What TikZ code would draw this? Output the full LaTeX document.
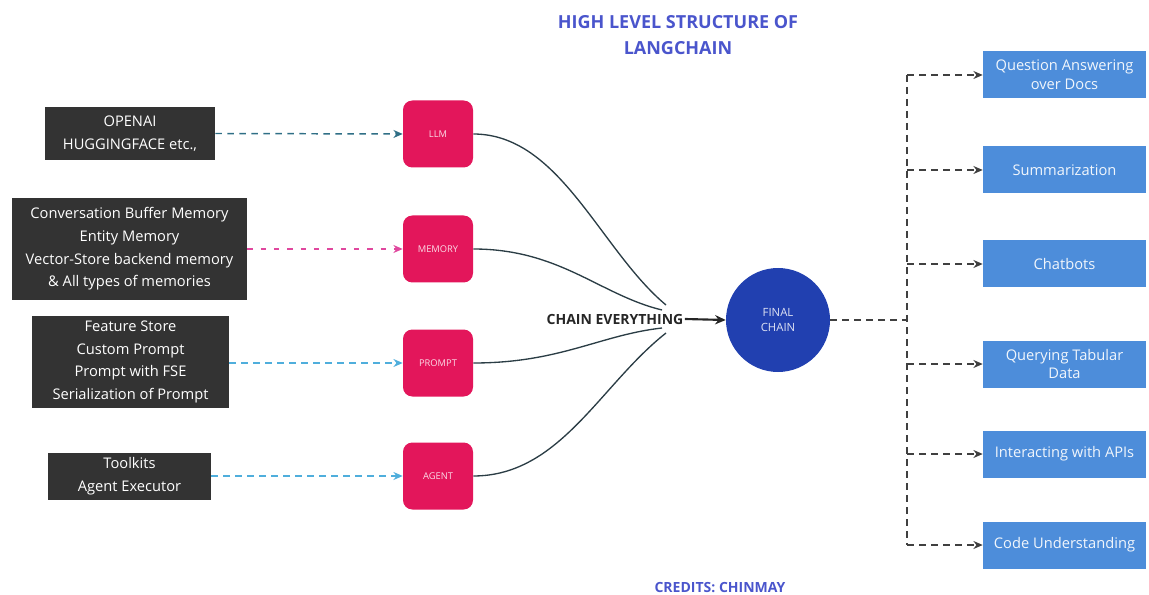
\documentclass[tikz,border=0pt]{standalone}
\usepackage{fontspec}
\setmainfont{Open Sans}
\usetikzlibrary{arrows.meta}
\definecolor{darkbox}{HTML}{333333}
\definecolor{pinkbox}{HTML}{E3165B}
\definecolor{navy}{HTML}{2140B0}
\definecolor{rightblue}{HTML}{4D8DDA}
\definecolor{tealarrow}{HTML}{2F6F86}
\definecolor{lightarrow}{HTML}{4FAEDC}
\definecolor{magdot}{HTML}{E0479E}
\definecolor{titleblue}{HTML}{4A55CC}
\definecolor{curvecol}{HTML}{2B3D45}
\tikzset{
  srcbox/.style={draw=none, fill=darkbox, text=white, align=center, font=\fontsize{11}{17}\selectfont, inner sep=2pt},
  pinkb/.style={fill=pinkbox, rounded corners=7pt, minimum width=52.5pt, minimum height=50.25pt, text=white!85!pinkbox, font=\fontsize{7}{8}\selectfont, inner sep=1pt},
  usebox/.style={fill=rightblue, minimum width=122.25pt, minimum height=35.25pt, text=white!92!rightblue, align=center, font=\fontsize{11}{14}\selectfont, inner sep=1pt},
  feed/.style={dashed, dash pattern=on 5pt off 4pt, line width=1.1pt, -{Stealth[length=7pt,width=6pt,fill=black!80]}},
  fan/.style={curvecol, line width=1pt},
  outdash/.style={dashed, dash pattern=on 5pt off 4pt, line width=1.1pt, black!75},
  labtxt/.style={font=\fontsize{13.5}{19}\selectfont\bfseries, text=titleblue}
}
\begin{document}
\begin{tikzpicture}[x=0.75pt,y=-0.75pt]
\useasboundingbox (0,0) rectangle (1149,595);
% title
\node[labtxt, align=center] (title) at (678,35) {HIGH LEVEL STRUCTURE OF\\LANGCHAIN};
% source boxes
\node[srcbox, minimum width=127.5pt, minimum height=39.75pt] (s1) at (130,133.5) {OPENAI\\HUGGINGFACE etc.,};
\node[srcbox, minimum width=176.25pt, minimum height=76.5pt] (s2) at (129.5,249) {Conversation Buffer Memory\\Entity Memory\\Vector-Store backend memory\\\& All types of memories};
\node[srcbox, minimum width=147.75pt, minimum height=69pt] (s3) at (130.5,362) {Feature Store\\Custom Prompt\\Prompt with FSE\\Serialization of Prompt};
\node[srcbox, minimum width=122.25pt, minimum height=35.25pt] (s4) at (129.5,476.5) {Toolkits\\Agent Executor};
% pink boxes
\node[pinkb] (llm) at (438,134) {LLM};
\node[pinkb] (mem) at (438,249) {MEMORY};
\node[pinkb] (prm) at (438,363) {PROMPT};
\node[pinkb] (agt) at (438,476) {AGENT};
% feeds
\draw[feed, tealarrow] (s1.east) -- (llm.west);
\draw[feed, magdot, dash pattern=on 4pt off 6pt, line width=2pt] (s2.east) -- (mem.west);
\draw[feed, lightarrow] (s3.east |- prm.west) -- (prm.west);
\draw[feed, lightarrow] (s4.east |- agt.west) -- (agt.west);
% chain everything
\node[font=\fontsize{10.5}{12}\selectfont\bfseries, text=black!85, inner sep=1pt] (chain) at (615,319) {CHAIN EVERYTHING};
\coordinate (conv1) at (666,305);
\coordinate (conv2) at (662,310);
\coordinate (conv3) at (662,328);
\coordinate (conv4) at (666,333);
\draw[fan] (llm.east) .. controls (560,134) and (600,250) .. (conv1);
\draw[fan] (mem.east) .. controls (560,249) and (600,295) .. (conv2);
\draw[fan] (prm.east) .. controls (560,363) and (600,335) .. (conv3);
\draw[fan] (agt.east) .. controls (560,476) and (600,385) .. (conv4);
% final chain
\node[circle, fill=navy, minimum size=78pt, text=white!85!navy, align=center, font=\fontsize{8.5}{11}\selectfont, inner sep=0pt] (final) at (778,320) {FINAL\\CHAIN};
\draw[line width=1.6pt, black!85, -{Stealth[length=8pt,width=7pt]}] (chain.east) -- (final.west);
% output distribution
\coordinate (hub) at (907,320);
\coordinate (vtop) at (907,75);
\coordinate (vbot) at (907,545);
\draw[outdash] (final.east) -- (hub);
\draw[outdash] (vtop) -- (vbot);
\node[usebox] (u1) at (1064.5,75) {Question Answering\\over Docs};
\node[usebox] (u2) at (1064.5,170) {Summarization};
\node[usebox] (u3) at (1064.5,264) {Chatbots};
\node[usebox] (u4) at (1064.5,364) {Querying Tabular\\Data};
\node[usebox] (u5) at (1064.5,454) {Interacting with APIs};
\node[usebox] (u6) at (1064.5,545) {Code Understanding};
\foreach \u in {u1,u2,u3,u4,u5,u6}{
  \draw[feed, black!75] (vtop |- \u.west) -- (\u.west);
}
% credits
\node[font=\fontsize{10.5}{12}\selectfont\bfseries, text=titleblue] (credits) at (720,588) {CREDITS: CHINMAY};
\end{tikzpicture}
\end{document}
